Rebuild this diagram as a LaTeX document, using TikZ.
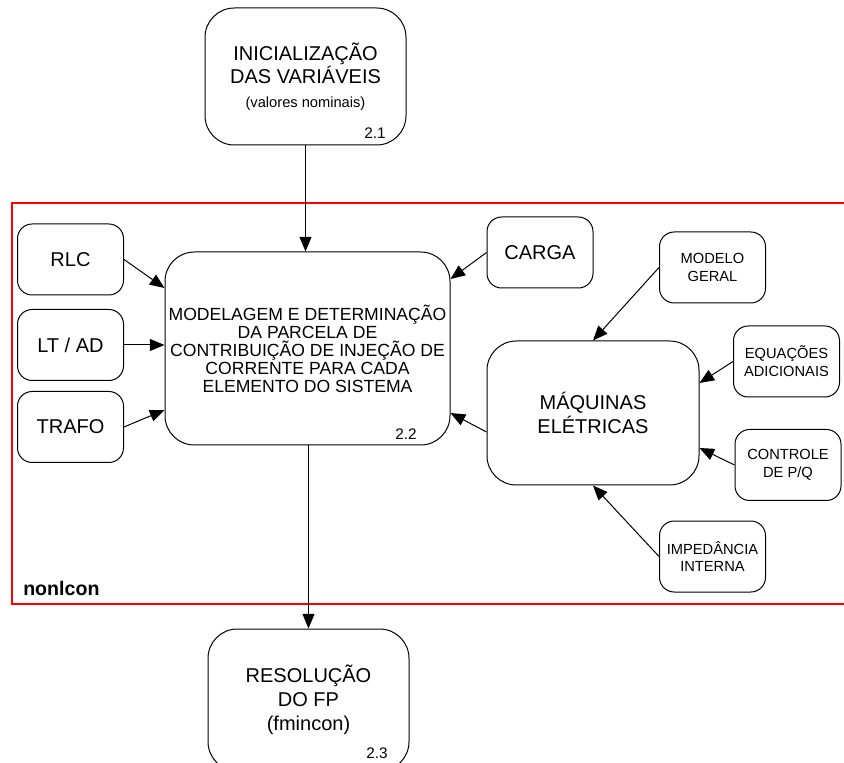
\documentclass[tikz,border=0pt]{standalone}
\usepackage{fontspec}
\setmainfont{Liberation Sans}
\usetikzlibrary{arrows.meta,calc}

\tikzset{
  caixa/.style={draw, rounded corners=11pt, minimum width=79.5pt, minimum height=53.25pt,
    align=center, inner sep=1pt, line width=0.75pt},
  media/.style={caixa, font=\fontsize{15}{17.5}\selectfont},
  pequena/.style={caixa, font=\fontsize{11}{13.3}\selectfont},
  grande/.style={caixa, rounded corners=22pt, font=\fontsize{15}{17.5}\selectfont},
  num/.style={font=\fontsize{11.5}{13}\selectfont, inner sep=0pt},
  seta/.style={-{Triangle[length=11pt,width=9pt]}, line width=0.75pt},
}

\begin{document}
\begin{tikzpicture}[x=0.75pt,y=-0.75pt]
\useasboundingbox (0,0) rectangle (844,763);
% regiao do nonlcon
\draw[red, line width=1.1pt] (850,203) -- (12,203) -- (12,604) -- (850,604);
\node[anchor=base west, inner sep=0pt, font=\fontsize{14.7}{17}\selectfont\bfseries] (nonlcon) at (23,595) {nonlcon};

% blocos principais
\node[grande, minimum width=150.75pt, minimum height=102.75pt] (ini) at (305.5,76.5)
  {INICIALIZAÇÃO\\DAS VARIÁVEIS\\{\fontsize{11}{13}\selectfont(valores nominais)}};
\node[num, anchor=base east] (n21) at (386,139) {2.1};
\node[grande, minimum width=213.75pt, minimum height=144.75pt, font=\fontsize{13.2}{13.5}\selectfont] (parc) at (307.5,348.5)
  {MODELAGEM E DETERMINAÇÃO\\DA PARCELA DE\\CONTRIBUIÇÃO DE INJEÇÃO DE\\CORRENTE PARA CADA\\ELEMENTO DO SISTEMA};
\node[num, anchor=base east] (n22) at (417,440) {2.2};
\node[grande, minimum width=150.75pt, minimum height=106.5pt, font=\fontsize{15}{18}\selectfont] (res) at (308.5,700)
  {RESOLUÇÃO\\DO FP\\(fmincon)};
\node[num, anchor=base east] (n23) at (388,758) {2.3};
\node[grande, minimum width=159pt, minimum height=108pt] (maq) at (593,413) {MÁQUINAS\\ELÉTRICAS};

% elementos
\node[media] (rlc) at (70.5,259.5) {RLC};
\node[media] (ltad) at (70.5,345) {LT / AD};
\node[media] (trafo) at (70.5,427) {TRAFO};
\node[media] (carga) at (540,252.5) {CARGA};
\node[pequena] (mod) at (712.5,267.5) {MODELO\\GERAL};
\node[pequena] (eq) at (786.5,361.5) {EQUAÇÕES\\ADICIONAIS};
\node[pequena] (ctrl) at (788,465) {CONTROLE\\DE P/Q};
\node[pequena] (imp) at (712.5,556.5) {IMPEDÂNCIA\\INTERNA};

% setas
\draw[seta] (ini) -- (ini |- parc.north);
\draw[seta] (parc.south -| res) -- (res);
\draw[seta] (rlc.east) -- ($(parc.west)+(0,-60.5)$);
\draw[seta] (ltad) -- (ltad -| parc.west);
\draw[seta] (trafo.east) -- ($(parc.west)+(0,61.5)$);
\draw[seta] (carga.west) -- ($(parc.east)+(0,-69.5)$);
\draw[seta] ($(maq.west)+(0,19)$) -- ($(parc.east)+(0,64.5)$);
\draw[seta] (mod.west) -- (maq.north);
\draw[seta] (eq.west) -- ($(maq.east)+(0,-30)$);
\draw[seta] (ctrl.west) -- ($(maq.east)+(0,35)$);
\draw[seta] (imp.west) -- (maq.south);
\end{tikzpicture}
\end{document}
